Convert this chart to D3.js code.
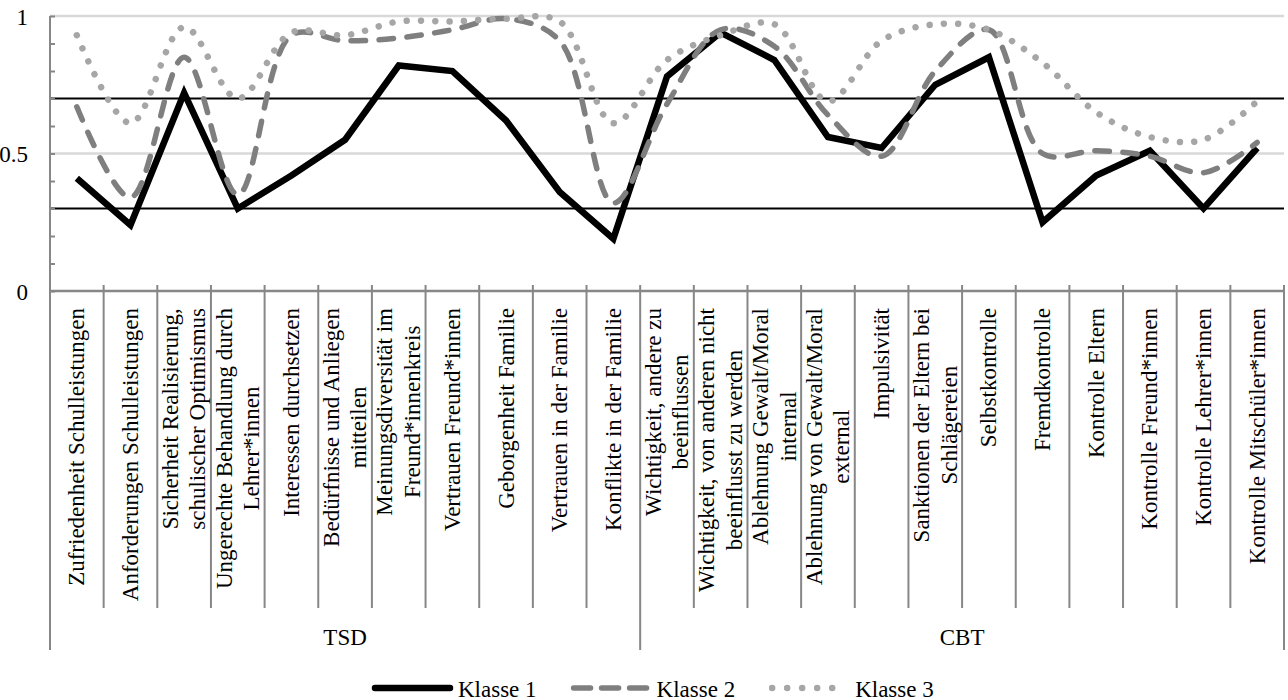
<!DOCTYPE html>
<html><head><meta charset="utf-8">
<script src="https://cdn.jsdelivr.net/npm/d3@7"></script>
<style>body{margin:0;background:#fff} svg{display:block} text{font-family:"Liberation Serif","Times New Roman",serif;fill:#000}</style>
</head><body><svg id="c" width="1288" height="700"></svg>
<script>
const categories = [
  "Zufriedenheit Schulleistungen",
  "Anforderungen Schulleistungen",
  "Sicherheit Realisierung,\nschulischer Optimismus",
  "Ungerechte Behandlung durch\nLehrer*innen",
  "Interessen durchsetzen",
  "Bedürfnisse und Anliegen\nmitteilen",
  "Meinungsdiversität im\nFreund*innenkreis",
  "Vertrauen Freund*innen",
  "Geborgenheit Familie",
  "Vertrauen in der Familie",
  "Konflikte in der Familie",
  "Wichtigkeit, andere zu\nbeeinflussen",
  "Wichtigkeit, von anderen nicht\nbeeinflusst zu werden",
  "Ablehnung Gewalt/Moral\ninternal",
  "Ablehnung von Gewalt/Moral\nexternal",
  "Impulsivität",
  "Sanktionen der Eltern bei\nSchlägereien",
  "Selbstkontrolle",
  "Fremdkontrolle",
  "Kontrolle Eltern",
  "Kontrolle Freund*innen",
  "Kontrolle Lehrer*innen",
  "Kontrolle Mitschüler*innen"
];
const groupNames = ["TSD", "CBT"];
const groupSizes = [11, 12];
const seriesNames = ["Klasse 1", "Klasse 2", "Klasse 3"];
const klasse1 = [0.41,0.24,0.72,0.30,0.42,0.55,0.82,0.80,0.62,0.36,0.19,0.78,0.94,0.84,0.56,0.52,0.75,0.85,0.25,0.42,0.51,0.30,0.52];
const klasse2 = [0.67,0.34,0.85,0.35,0.93,0.91,0.92,0.95,0.99,0.91,0.32,0.68,0.95,0.89,0.64,0.49,0.80,0.95,0.50,0.51,0.49,0.43,0.54];
const klasse3 = [0.93,0.61,0.96,0.70,0.94,0.93,0.98,0.98,0.99,0.98,0.61,0.84,0.93,0.97,0.69,0.91,0.97,0.95,0.83,0.65,0.56,0.55,0.69];
const yTickLabels = [0, 0.5, 1];
const referenceLines = [0.3, 0.7];

const L = 50, R = 1284, T = 16, B = 291;
const FS = 23;
const axisColor = "#878787";
const svg = d3.select("#c");
const x = d3.scaleBand().domain(d3.range(categories.length)).range([L, R]);
const y = d3.scaleLinear().domain([0, 1]).range([B, T]);
const cxOf = i => x(i) + x.bandwidth() / 2;

// gridlines
svg.append("g").selectAll("line").data(yTickLabels.filter(v => v > 0)).join("line")
  .attr("x1", L).attr("x2", R).attr("y1", d => y(d)).attr("y2", d => y(d))
  .attr("stroke", "#d9d9d9").attr("stroke-width", 2.5);

// reference lines
svg.append("g").selectAll("line").data(referenceLines).join("line")
  .attr("x1", L).attr("x2", R).attr("y1", d => y(d)).attr("y2", d => y(d))
  .attr("stroke", "#000").attr("stroke-width", 2);

// minor ticks (inside)
svg.append("g").attr("transform", `translate(${L},0)`)
  .call(d3.axisRight(y).tickValues(d3.range(0, 11).map(i => i / 10)).tickSize(5).tickFormat(""))
  .call(g => { g.select(".domain").remove(); g.selectAll("line").attr("stroke", axisColor).attr("stroke-width", 2); });

// y labels
svg.append("g").selectAll("text").data(yTickLabels).join("text")
  .attr("x", 28).attr("y", d => y(d) + 1).attr("text-anchor", "end")
  .attr("dominant-baseline", "central").attr("font-size", FS).text(d => String(d));

// separators
const groupBounds = [0];
groupSizes.forEach(n => groupBounds.push(groupBounds[groupBounds.length - 1] + n));
const bounds = d3.range(categories.length + 1);
svg.append("g").selectAll("line").data(bounds).join("line")
  .attr("x1", i => i < categories.length ? x(i) : R).attr("x2", i => i < categories.length ? x(i) : R)
  .attr("y1", i => i === 0 ? T : B - 6)
  .attr("y2", i => groupBounds.includes(i) ? 650 : 608)
  .attr("stroke", axisColor).attr("stroke-width", 2);

// x axis line
svg.append("line").attr("x1", L).attr("x2", R).attr("y1", B).attr("y2", B)
  .attr("stroke", axisColor).attr("stroke-width", 2.5);

// category labels
const lh = 27.5;
categories.forEach((c, i) => {
  const lines = c.split("\n");
  const g = svg.append("g");
  const texts = lines.map(ln => g.append("text").attr("font-size", FS)
    .attr("text-anchor", "middle").attr("dominant-baseline", "central").text(ln));
  const maxW = d3.max(texts, t => t.node().getComputedTextLength());
  texts.forEach((t, j) => {
    const lx = cxOf(i) + (j - (lines.length - 1) / 2) * lh;
    const ly = 308 + maxW / 2;
    t.attr("transform", `translate(${lx},${ly}) rotate(-90)`);
  });
});

// group labels
svg.append("g").selectAll("text").data(groupNames).join("text")
  .attr("x", (d, i) => {
    const a = x(groupBounds[i]);
    const b = groupBounds[i + 1] < categories.length ? x(groupBounds[i + 1]) : R;
    return (a + b) / 2;
  })
  .attr("y", 637).attr("text-anchor", "middle").attr("dominant-baseline", "central")
  .attr("font-size", FS).text(d => d);

// series
const styles = [
  { color: "#000", width: 6.5, dash: null, cap: "butt", join: "miter", curve: d3.curveLinear },
  { color: "#7f7f7f", width: 5.5, dash: "14.5 13.5", cap: "round", join: "round", curve: d3.curveCatmullRom.alpha(0.5) },
  { color: "#a6a6a6", width: 6.5, dash: "0.01 14.3", cap: "round", join: "round", curve: d3.curveCatmullRom.alpha(0.5) }
];
const allSeries = [klasse1, klasse2, klasse3];
allSeries.forEach((vals, s) => {
  const st = styles[s];
  const line = d3.line().x((d, i) => cxOf(i)).y(d => y(d)).curve(st.curve);
  svg.append("path").attr("d", line(vals)).attr("fill", "none")
    .attr("stroke", st.color).attr("stroke-width", st.width)
    .attr("stroke-dasharray", st.dash).attr("stroke-linecap", st.cap)
    .attr("stroke-linejoin", st.join).attr("stroke-miterlimit", 10);
});

// legend
const legY = 688;
let lx = 372;
seriesNames.forEach((name, s) => {
  const st = styles[s];
  svg.append("line").attr("x1", lx + 3).attr("x2", lx + 78).attr("y1", legY).attr("y2", legY)
    .attr("stroke", st.color).attr("stroke-width", st.width)
    .attr("stroke-dasharray", s === 1 ? "17 11" : (s === 2 ? "0.01 15" : null))
    .attr("stroke-linecap", "round");
  const t = svg.append("text").attr("x", lx + 86).attr("y", legY + 1)
    .attr("dominant-baseline", "central").attr("font-size", FS).text(name);
  lx += 86 + t.node().getComputedTextLength() + 34;
});
</script></body></html>
